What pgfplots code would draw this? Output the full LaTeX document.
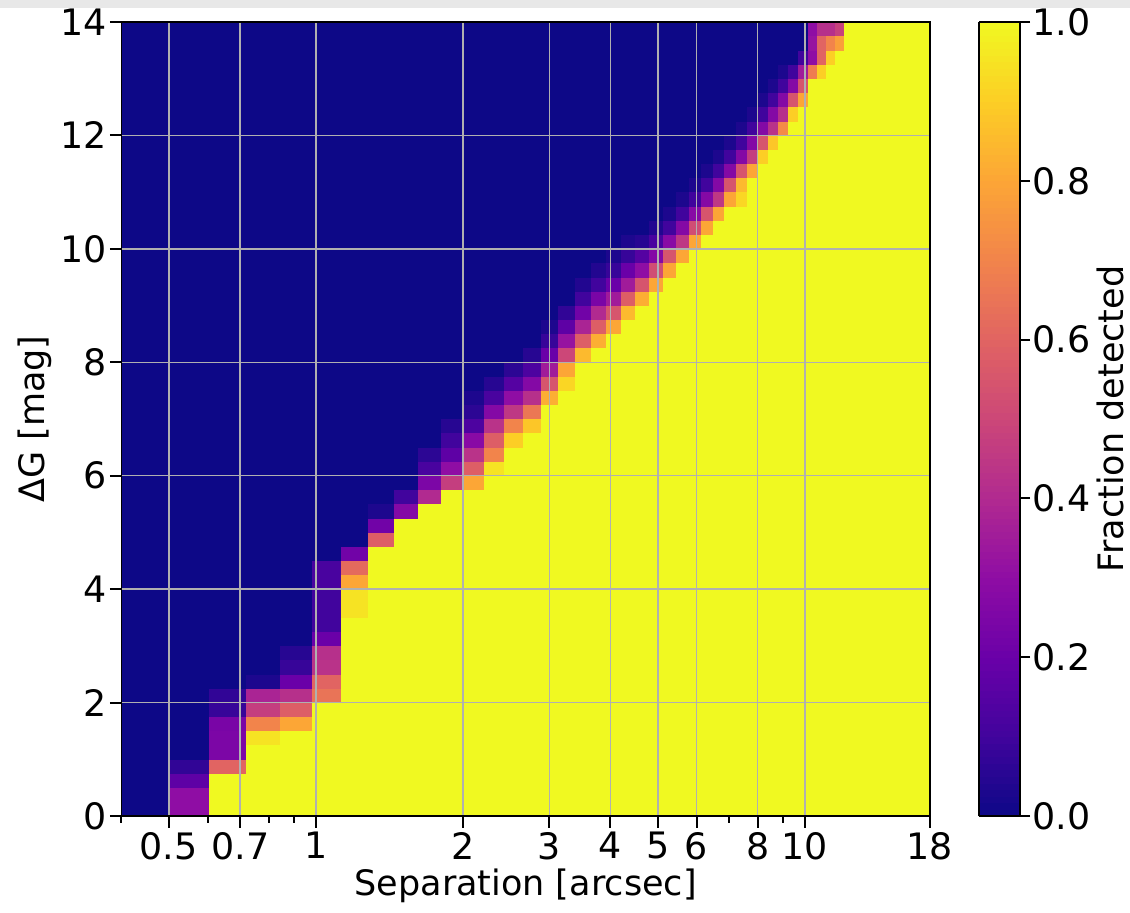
\documentclass[border=0pt]{standalone}
\usepackage{fontspec}
\setmainfont{DejaVu Sans}
\usepackage{pgfplots}
\pgfplotsset{compat=1.18}

\newcommand{\tsz}{\fontsize{18.2}{22}\selectfont}
\newcommand{\lsz}{\fontsize{17.5}{21}\selectfont}
\definecolor{gridgray}{RGB}{176,176,176}

\pgfplotsset{
  colormap={plasma}{rgb255=(13,8,135) rgb255=(65,4,157) rgb255=(106,0,168)
    rgb255=(143,13,164) rgb255=(177,42,144) rgb255=(204,71,120) rgb255=(225,100,98)
    rgb255=(242,132,75) rgb255=(252,166,54) rgb255=(252,206,37) rgb255=(240,249,33)},
  % one row of cells (0.25 mag high): a thick line, each segment coloured by its first point
  strip/.style={mesh, shader=flat corner, point meta=explicit, line width=7.4pt, forget plot},
}

\begin{document}
\begin{tikzpicture}
\begin{axis}[
  at={(0,0)}, anchor=south west,
  scale only axis, width=404.2pt, height=397pt,
  xmode=log, xmin=0.4, xmax=18, ymin=0, ymax=14,
  xtick={0.5,0.7,1,2,3,4,5,6,8,10,18},
  xticklabels={0.5,0.7,1,2,3,4,5,6,8,10,18},
  minor xtick={0.4,0.6,0.8,0.9,7,9},
  ytick={0,2,4,6,8,10,12,14},
  yticklabels={0,2,4,6,8,10,12,14},
  xtick pos=bottom, ytick pos=left,
  tick align=outside,
  major tick length=5.8pt, minor tick length=3.3pt,
  every tick/.append style={black, line width=1pt},
  axis line style={line width=0.8pt},
  grid=major,
  major grid style={color=gridgray, line width=0.75pt},
  axis on top,
  xlabel={Separation [arcsec]},
  ylabel={ΔG [mag]},
  tick label style={font=\tsz},
  yticklabel style={inner xsep=1.5pt},
  xticklabel style={inner ysep=2pt},
  every axis x label/.style={at={(rel axis cs:0.5,-0.088)}, anchor=center, font=\lsz},
  every axis y label/.style={at={(rel axis cs:-0.107,0.5)}, rotate=90, anchor=center, font=\lsz},
  colormap name=plasma,
  point meta min=0, point meta max=1,
  colorbar sampled,
  colorbar style={
    at={(parent axis.north east)}, anchor=north west, xshift=16.1pt,
    width=20.5pt,
    samples=121,
    ytick={0,0.2,0.4,0.6,0.8,1},
    yticklabels={0.0,0.2,0.4,0.6,0.8,1.0},
    ytick pos=right, yticklabel pos=right,
    tick align=outside,
    major tick length=5pt,
    every tick/.append style={black, line width=1pt},
    axis line style={line width=0.8pt},
    tick label style={font=\tsz},
    yticklabel style={inner xsep=1pt},
    ylabel={Fraction detected},
    every axis y label/.style={at={(rel axis cs:3.2,0.5)}, rotate=90, anchor=center, font=\lsz},
  },
]
\addplot[strip] coordinates {(0.4,0.125)[0] (0.5,0.125)[0.3] (0.605,0.125)[1] (18,0.125)[1]};
\addplot[strip] coordinates {(0.4,0.375)[0] (0.5,0.375)[0.3] (0.605,0.375)[1] (18,0.375)[1]};
\addplot[strip] coordinates {(0.4,0.625)[0] (0.5,0.625)[0.17] (0.605,0.625)[1] (18,0.625)[1]};
\addplot[strip] coordinates {(0.4,0.875)[0] (0.5,0.875)[0.07] (0.605,0.875)[0.6] (0.72,0.875)[1] (18,0.875)[1]};
\addplot[strip] coordinates {(0.4,1.125)[0] (0.605,1.125)[0.25] (0.72,1.125)[1] (18,1.125)[1]};
\addplot[strip] coordinates {(0.4,1.375)[0] (0.605,1.375)[0.25] (0.72,1.375)[0.95] (0.845,1.375)[1] (18,1.375)[1]};
\addplot[strip] coordinates {(0.4,1.625)[0] (0.605,1.625)[0.24] (0.72,1.625)[0.7] (0.845,1.625)[0.8] (0.98,1.625)[1] (18,1.625)[1]};
\addplot[strip] coordinates {(0.4,1.875)[0] (0.605,1.875)[0.08] (0.72,1.875)[0.47] (0.845,1.875)[0.58] (0.98,1.875)[1] (18,1.875)[1]};
\addplot[strip] coordinates {(0.4,2.125)[0] (0.605,2.125)[0.07] (0.72,2.125)[0.38] (0.845,2.125)[0.42] (0.98,2.125)[0.65] (1.125,2.125)[1] (18,2.125)[1]};
\addplot[strip] coordinates {(0.4,2.375)[0] (0.72,2.375)[0.03] (0.845,2.375)[0.2] (0.98,2.375)[0.6] (1.125,2.375)[1] (18,2.375)[1]};
\addplot[strip] coordinates {(0.4,2.625)[0] (0.845,2.625)[0.08] (0.98,2.625)[0.43] (1.125,2.625)[1] (18,2.625)[1]};
\addplot[strip] coordinates {(0.4,2.875)[0] (0.845,2.875)[0.05] (0.98,2.875)[0.42] (1.125,2.875)[1] (18,2.875)[1]};
\addplot[strip] coordinates {(0.4,3.125)[0] (0.98,3.125)[0.2] (1.125,3.125)[1] (18,3.125)[1]};
\addplot[strip] coordinates {(0.4,3.375)[0] (0.98,3.375)[0.1] (1.125,3.375)[1] (18,3.375)[1]};
\addplot[strip] coordinates {(0.4,3.625)[0] (0.98,3.625)[0.1] (1.125,3.625)[0.95] (1.28,3.625)[1] (18,3.625)[1]};
\addplot[strip] coordinates {(0.4,3.875)[0] (0.98,3.875)[0.1] (1.125,3.875)[0.95] (1.28,3.875)[1] (18,3.875)[1]};
\addplot[strip] coordinates {(0.4,4.125)[0] (0.98,4.125)[0.12] (1.125,4.125)[0.8] (1.28,4.125)[1] (18,4.125)[1]};
\addplot[strip] coordinates {(0.4,4.375)[0] (0.98,4.375)[0.12] (1.125,4.375)[0.62] (1.28,4.375)[1] (18,4.375)[1]};
\addplot[strip] coordinates {(0.4,4.625)[0] (1.125,4.625)[0.22] (1.28,4.625)[1] (18,4.625)[1]};
\addplot[strip] coordinates {(0.4,4.875)[0] (1.28,4.875)[0.58] (1.445,4.875)[1] (18,4.875)[1]};
\addplot[strip] coordinates {(0.4,5.125)[0] (1.28,5.125)[0.22] (1.445,5.125)[1] (18,5.125)[1]};
\addplot[strip] coordinates {(0.4,5.375)[0] (1.28,5.375)[0.03] (1.445,5.375)[0.27] (1.62,5.375)[1] (18,5.375)[1]};
\addplot[strip] coordinates {(0.4,5.625)[0] (1.445,5.625)[0.1] (1.62,5.625)[0.4] (1.805,5.625)[1] (18,5.625)[1]};
\addplot[strip] coordinates {(0.4,5.875)[0] (1.62,5.875)[0.25] (1.805,5.875)[0.47] (2,5.875)[0.8] (2.205,5.875)[1] (18,5.875)[1]};
\addplot[strip] coordinates {(0.4,6.125)[0] (1.62,6.125)[0.12] (1.805,6.125)[0.3] (2,6.125)[0.58] (2.205,6.125)[0.95] (2.42,6.125)[1] (18,6.125)[1]};
\addplot[strip] coordinates {(0.4,6.375)[0] (1.62,6.375)[0.06] (1.805,6.375)[0.17] (2,6.375)[0.43] (2.205,6.375)[0.7] (2.42,6.375)[1] (18,6.375)[1]};
\addplot[strip] coordinates {(0.4,6.625)[0] (1.805,6.625)[0.1] (2,6.625)[0.28] (2.205,6.625)[0.58] (2.42,6.625)[0.9] (2.645,6.625)[1] (18,6.625)[1]};
\addplot[strip] coordinates {(0.4,6.875)[0] (1.805,6.875)[0.05] (2,6.875)[0.13] (2.205,6.875)[0.43] (2.42,6.875)[0.7] (2.645,6.875)[0.88] (2.88,6.875)[1] (18,6.875)[1]};
\addplot[strip] coordinates {(0.4,7.125)[0] (2,7.125)[0.06] (2.205,7.125)[0.27] (2.42,7.125)[0.45] (2.645,7.125)[0.66] (2.88,7.125)[1] (18,7.125)[1]};
\addplot[strip] coordinates {(0.4,7.375)[0] (2,7.375)[0.03] (2.205,7.375)[0.12] (2.42,7.375)[0.3] (2.645,7.375)[0.42] (2.88,7.375)[0.82] (3.125,7.375)[1] (18,7.375)[1]};
\addplot[strip] coordinates {(0.4,7.625)[0] (2.205,7.625)[0.05] (2.42,7.625)[0.15] (2.645,7.625)[0.27] (2.88,7.625)[0.55] (3.125,7.625)[0.92] (3.38,7.625)[1] (18,7.625)[1]};
\addplot[strip] coordinates {(0.4,7.875)[0] (2.42,7.875)[0.06] (2.645,7.875)[0.13] (2.88,7.875)[0.35] (3.125,7.875)[0.8] (3.38,7.875)[1] (18,7.875)[1]};
\addplot[strip] coordinates {(0.4,8.125)[0] (2.645,8.125)[0.05] (2.88,8.125)[0.2] (3.125,8.125)[0.5] (3.38,8.125)[0.85] (3.645,8.125)[1] (18,8.125)[1]};
\addplot[strip] coordinates {(0.4,8.375)[0] (2.88,8.375)[0.08] (3.125,8.375)[0.32] (3.38,8.375)[0.58] (3.645,8.375)[0.82] (3.92,8.375)[1] (18,8.375)[1]};
\addplot[strip] coordinates {(0.4,8.625)[0] (2.88,8.625)[0.03] (3.125,8.625)[0.17] (3.38,8.625)[0.38] (3.645,8.625)[0.58] (3.92,8.625)[0.8] (4.205,8.625)[1] (18,8.625)[1]};
\addplot[strip] coordinates {(0.4,8.875)[0] (3.125,8.875)[0.07] (3.38,8.875)[0.22] (3.645,8.875)[0.4] (3.92,8.875)[0.55] (4.205,8.875)[0.85] (4.5,8.875)[1] (18,8.875)[1]};
\addplot[strip] coordinates {(0.4,9.125)[0] (3.38,9.125)[0.1] (3.645,9.125)[0.24] (3.92,9.125)[0.35] (4.205,9.125)[0.58] (4.5,9.125)[0.82] (4.805,9.125)[1] (18,9.125)[1]};
\addplot[strip] coordinates {(0.4,9.375)[0] (3.38,9.375)[0.04] (3.645,9.375)[0.1] (3.92,9.375)[0.2] (4.205,9.375)[0.35] (4.5,9.375)[0.55] (4.805,9.375)[0.8] (5.12,9.375)[1] (18,9.375)[1]};
\addplot[strip] coordinates {(0.4,9.625)[0] (3.645,9.625)[0.04] (3.92,9.625)[0.08] (4.205,9.625)[0.2] (4.5,9.625)[0.3] (4.805,9.625)[0.52] (5.12,9.625)[0.8] (5.445,9.625)[1] (18,9.625)[1]};
\addplot[strip] coordinates {(0.4,9.875)[0] (3.92,9.875)[0.03] (4.205,9.875)[0.08] (4.5,9.875)[0.15] (4.805,9.875)[0.27] (5.12,9.875)[0.55] (5.445,9.875)[0.8] (5.78,9.875)[1] (18,9.875)[1]};
\addplot[strip] coordinates {(0.4,10.125)[0] (4.205,10.125)[0.03] (4.5,10.125)[0.05] (4.805,10.125)[0.12] (5.12,10.125)[0.28] (5.445,10.125)[0.45] (5.78,10.125)[0.8] (6.125,10.125)[1] (18,10.125)[1]};
\addplot[strip] coordinates {(0.4,10.375)[0] (4.805,10.375)[0.04] (5.12,10.375)[0.1] (5.445,10.375)[0.27] (5.78,10.375)[0.52] (6.125,10.375)[0.8] (6.48,10.375)[1] (18,10.375)[1]};
\addplot[strip] coordinates {(0.4,10.625)[0] (5.12,10.625)[0.03] (5.445,10.625)[0.1] (5.78,10.625)[0.28] (6.125,10.625)[0.55] (6.48,10.625)[0.8] (6.845,10.625)[1] (18,10.625)[1]};
\addplot[strip] coordinates {(0.4,10.875)[0] (5.445,10.875)[0.03] (5.78,10.875)[0.1] (6.125,10.875)[0.27] (6.48,10.875)[0.45] (6.845,10.875)[0.8] (7.22,10.875)[0.92] (7.605,10.875)[1] (18,10.875)[1]};
\addplot[strip] coordinates {(0.4,11.125)[0] (5.78,11.125)[0.03] (6.125,11.125)[0.1] (6.48,11.125)[0.27] (6.845,11.125)[0.55] (7.22,11.125)[0.85] (7.605,11.125)[1] (18,11.125)[1]};
\addplot[strip] coordinates {(0.4,11.375)[0] (6.125,11.375)[0.03] (6.48,11.375)[0.1] (6.845,11.375)[0.27] (7.22,11.375)[0.55] (7.605,11.375)[0.8] (8,11.375)[1] (18,11.375)[1]};
\addplot[strip] coordinates {(0.4,11.625)[0] (6.48,11.625)[0.03] (6.845,11.625)[0.1] (7.22,11.625)[0.27] (7.605,11.625)[0.47] (8,11.625)[0.9] (8.405,11.625)[1] (18,11.625)[1]};
\addplot[strip] coordinates {(0.4,11.875)[0] (6.845,11.875)[0.03] (7.22,11.875)[0.1] (7.605,11.875)[0.27] (8,11.875)[0.55] (8.405,11.875)[0.88] (8.82,11.875)[1] (18,11.875)[1]};
\addplot[strip] coordinates {(0.4,12.125)[0] (7.22,12.125)[0.03] (7.605,12.125)[0.1] (8,12.125)[0.27] (8.405,12.125)[0.43] (8.82,12.125)[0.72] (9.245,12.125)[1] (18,12.125)[1]};
\addplot[strip] coordinates {(0.4,12.375)[0] (7.605,12.375)[0.03] (8,12.375)[0.1] (8.405,12.375)[0.27] (8.82,12.375)[0.42] (9.245,12.375)[0.9] (9.68,12.375)[1] (18,12.375)[1]};
\addplot[strip] coordinates {(0.4,12.625)[0] (8,12.625)[0.03] (8.405,12.625)[0.1] (8.82,12.625)[0.27] (9.245,12.625)[0.55] (9.68,12.625)[0.8] (10.125,12.625)[1] (18,12.625)[1]};
\addplot[strip] coordinates {(0.4,12.875)[0] (8.405,12.875)[0.03] (8.82,12.875)[0.1] (9.245,12.875)[0.27] (9.68,12.875)[0.55] (10.125,12.875)[1] (18,12.875)[1]};
\addplot[strip] coordinates {(0.4,13.125)[0] (8.82,13.125)[0.03] (9.245,13.125)[0.1] (9.68,13.125)[0.35] (10.125,13.125)[0.68] (10.58,13.125)[0.9] (11.045,13.125)[1] (18,13.125)[1]};
\addplot[strip] coordinates {(0.4,13.375)[0] (9.68,13.375)[0.1] (10.125,13.375)[0.3] (10.58,13.375)[0.6] (11.045,13.375)[0.9] (11.52,13.375)[1] (18,13.375)[1]};
\addplot[strip] coordinates {(0.4,13.625)[0] (10.125,13.625)[0.32] (10.58,13.625)[0.6] (11.045,13.625)[0.7] (11.52,13.625)[0.78] (12.005,13.625)[1] (18,13.625)[1]};
\addplot[strip] coordinates {(0.4,13.875)[0] (10.125,13.875)[0.3] (10.58,13.875)[0.42] (11.045,13.875)[0.42] (11.52,13.875)[0.48] (12.005,13.875)[1] (18,13.875)[1]};
\end{axis}
\fill[gray!18] (-60.7pt,404pt) rectangle (504.3pt,408pt);
\pgfresetboundingbox
\path[use as bounding box] (-60.7pt,-48pt) rectangle (504.3pt,408pt);
\end{tikzpicture}
\end{document}
